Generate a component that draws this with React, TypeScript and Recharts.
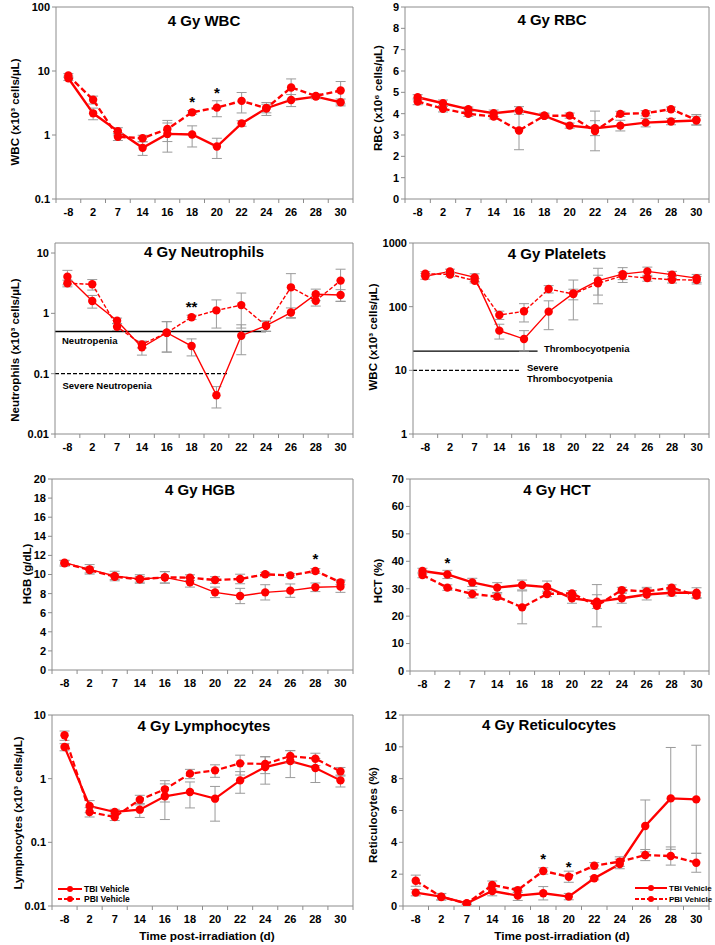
import React from 'react';
import { LineChart, Line, XAxis, YAxis, ErrorBar, ReferenceLine, ReferenceDot } from 'recharts';

const FONT = '"Liberation Sans", Arial, Helvetica, sans-serif';
const RED = '#FF0000';
const GRAY = '#8C8C8C';
const ERR = '#9A9A9A';

// ---------- data ----------
const categories = ['-8', '2', '7', '14', '16', '18', '20', '22', '24', '26', '28', '30'];

const wbcTbi = [7.7, 2.18, 1.15, 0.63, 1.04, 1.02, 0.66, 1.52, 2.62, 3.53, 3.98, 3.25];
const wbcTbiSd = [0.6, 0.45, 0.15, 0.15, 0.5, 0.37, 0.23, 0.15, 0.6, 0.75, 0.3, 0.4];
const wbcPbi = [8.5, 3.55, 0.94, 0.89, 1.24, 2.26, 2.68, 3.41, 2.62, 5.52, 4.08, 4.95];
const wbcPbiSd = [0.6, 0.5, 0.12, 0.1, 0.45, 0.15, 0.75, 1.2, 0.4, 2.0, 0.3, 1.9];

const rbcTbi = [4.77, 4.49, 4.21, 4.02, 4.15, 3.9, 3.44, 3.32, 3.44, 3.58, 3.63, 3.68];
const rbcTbiSd = [0.12, 0.15, 0.1, 0.15, 0.18, 0.12, 0.12, 0.35, 0.25, 0.2, 0.15, 0.2];
const rbcPbi = [4.57, 4.23, 3.99, 3.87, 3.21, 3.9, 3.91, 3.19, 3.99, 4.02, 4.21, 3.71];
const rbcPbiSd = [0.15, 0.15, 0.12, 0.12, 0.9, 0.12, 0.12, 0.93, 0.12, 0.12, 0.1, 0.25];

const neuTbi = [4.06, 1.6, 0.755, 0.273, 0.478, 0.287, 0.044, 0.426, 0.624, 1.03, 2.07, 2.02];
const neuTbiSd = [1.1, 0.38, 0.08, 0.07, 0.25, 0.09, 0.017, 0.22, 0.12, 0.2, 0.45, 0.45];
const neuPbi = [3.15, 3.03, 0.6, 0.306, 0.478, 0.86, 1.12, 1.37, 0.624, 2.7, 1.62, 3.49];
const neuPbiSd = [0.4, 0.6, 0.08, 0.04, 0.25, 0.07, 0.55, 0.8, 0.12, 1.85, 0.3, 1.9];

const pltTbi = [300, 358, 288, 42, 31, 83.5, 162, 256, 325, 358, 318, 281];
const pltTbiSd = [30, 30, 40, 11, 11, 40, 100, 145, 85, 60, 40, 40];
const pltPbi = [330, 320, 256, 74, 84.5, 189, 158, 232, 306, 281, 265, 262];
const pltPbiSd = [25, 25, 20, 11, 27, 25, 30, 80, 40, 30, 30, 35];

const hgbTbi = [11.24, 10.54, 9.84, 9.53, 9.7, 9.18, 8.13, 7.75, 8.13, 8.31, 8.66, 8.73];
const hgbTbiSd = [0.25, 0.5, 0.5, 0.45, 0.6, 0.5, 0.55, 0.8, 0.8, 0.7, 0.45, 0.6];
const hgbPbi = [11.17, 10.47, 9.77, 9.5, 9.7, 9.67, 9.42, 9.53, 10.02, 9.91, 10.37, 9.18];
const hgbPbiSd = [0.3, 0.3, 0.3, 0.3, 0.6, 0.3, 0.35, 0.5, 0.2, 0.2, 0.25, 0.25];

const hctTbi = [36.45, 35.2, 32.3, 30.4, 31.35, 30.6, 26.5, 25.3, 26.5, 27.9, 28.55, 28.55];
const hctTbiSd = [1, 1.5, 1.5, 1.8, 1.8, 2.2, 1.8, 2.5, 1.8, 2, 1.2, 1.8];
const hctPbi = [35, 30.4, 28.1, 27.1, 23.2, 28.1, 28.3, 23.8, 29.5, 29.0, 30.4, 27.5];
const hctPbiSd = [1, 1, 1.5, 1, 6, 1, 1, 7.7, 1, 1.5, 1, 1];

const lymTbi = [3.14, 0.372, 0.3, 0.326, 0.528, 0.617, 0.485, 0.94, 1.52, 1.89, 1.47, 0.94];
const lymTbiSd = [0.4, 0.08, 0.03, 0.08, 0.3, 0.27, 0.27, 0.35, 0.7, 0.85, 0.6, 0.2];
const lymPbi = [4.8, 0.3, 0.25, 0.468, 0.68, 1.2, 1.35, 1.74, 1.7, 2.27, 2.06, 1.3];
const lymPbiSd = [0.8, 0.05, 0.03, 0.08, 0.25, 0.2, 0.3, 0.6, 0.5, 0.5, 0.45, 0.2];

const retTbi = [0.84, 0.59, 0.17, 0.94, 0.65, 0.8, 0.59, 1.74, 2.64, 5.03, 6.76, 6.7];
const retTbiSd = [0.2, 0.2, 0.05, 0.3, 0.3, 0.42, 0.2, 0.1, 0.3, 1.63, 3.2, 3.4];
const retPbi = [1.59, 0.57, 0.15, 1.32, 1.0, 2.2, 1.84, 2.53, 2.79, 3.2, 3.14, 2.72];
const retPbiSd = [0.35, 0.2, 0.05, 0.25, 0.15, 0.2, 0.35, 0.2, 0.3, 0.35, 0.57, 0.6];

const wbcStars = [{ x: 5, y: 3.66, t: '*' }, { x: 6, y: 5.07, t: '*' }];
const neuStars = [{ x: 5, y: 1.43, t: '**' }];
const hgbStars = [{ x: 10, y: 11.94, t: '*' }];
const hctStars = [{ x: 1, y: 40.8, t: '*' }];
const retStars = [{ x: 5, y: 3.16, t: '*' }, { x: 6, y: 2.68, t: '*' }];

const neuThresholds = [
  { from: -0.5, to: 8, y: 0.5, dash: undefined },
  { from: -0.5, to: 6.5, y: 0.1, dash: '4 2' },
];
const pltThresholds = [
  { from: -0.5, to: 4.55, y: 20, dash: undefined },
  { from: -0.5, to: 3.85, y: 10, dash: '4 2' },
];

const logTicks1 = [0.1, 1, 10, 100];
const logTicks2 = [0.01, 0.1, 1, 10];
const logTicks3 = [1, 10, 100, 1000];
const rbcTicks = [0, 1, 2, 3, 4, 5, 6, 7, 8, 9];
const hgbTicks = [0, 2, 4, 6, 8, 10, 12, 14, 16, 18, 20];
const hctTicks = [0, 10, 20, 30, 40, 50, 60, 70];
const retTicks = [0, 2, 4, 6, 8, 10, 12];

// ---------- layout ----------
const panels: any[] = [
  { frame: [0, 0, 357, 230], plot: [56, 353, 7, 199], log: true, domain: [0.1, 100], ticks: logTicks1,
    tbi: wbcTbi, tbiSd: wbcTbiSd, pbi: wbcPbi, pbiSd: wbcPbiSd, stars: wbcStars, tw: 2.4, pw: 2.4, dash: '6 3' },
  { frame: [357, 0, 358, 230], plot: [405, 709, 7, 199], log: false, domain: [0, 9], ticks: rbcTicks,
    tbi: rbcTbi, tbiSd: rbcTbiSd, pbi: rbcPbi, pbiSd: rbcPbiSd, stars: [], tw: 2.4, pw: 2.4, dash: '6 3' },
  { frame: [0, 230, 357, 230], plot: [55, 353, 243, 434], log: true, domain: [0.01, 14.66], ticks: logTicks2,
    tbi: neuTbi, tbiSd: neuTbiSd, pbi: neuPbi, pbiSd: neuPbiSd, stars: neuStars, thresholds: neuThresholds, tw: 1.4, pw: 1.4, dash: '4 2' },
  { frame: [357, 230, 358, 230], plot: [413, 709, 243, 434], log: true, domain: [1, 1000], ticks: logTicks3,
    tbi: pltTbi, tbiSd: pltTbiSd, pbi: pltPbi, pbiSd: pltPbiSd, stars: [], thresholds: pltThresholds, tw: 1.4, pw: 1.4, dash: '4 2' },
  { frame: [0, 460, 357, 230], plot: [52, 353, 479, 670], log: false, domain: [0, 20], ticks: hgbTicks,
    tbi: hgbTbi, tbiSd: hgbTbiSd, pbi: hgbPbi, pbiSd: hgbPbiSd, stars: hgbStars, tw: 1.4, pw: 2.4, dash: '6 3' },
  { frame: [357, 460, 358, 230], plot: [410, 709, 479, 671], log: false, domain: [0, 70], ticks: hctTicks,
    tbi: hctTbi, tbiSd: hctTbiSd, pbi: hctPbi, pbiSd: hctPbiSd, stars: hctStars, tw: 2.4, pw: 2.4, dash: '6 3' },
  { frame: [0, 690, 357, 255], plot: [52, 353, 715, 906], log: true, domain: [0.01, 10], ticks: logTicks2,
    tbi: lymTbi, tbiSd: lymTbiSd, pbi: lymPbi, pbiSd: lymPbiSd, stars: [], tw: 2.2, pw: 2.2, dash: '6 3' },
  { frame: [357, 690, 358, 255], plot: [403, 709, 715, 906], log: false, domain: [0, 12], ticks: retTicks,
    tbi: retTbi, tbiSd: retTbiSd, pbi: retPbi, pbiSd: retPbiSd, stars: retStars, tw: 2.4, pw: 2.4, dash: '6 3' },
];

const titles = [
  { t: '4 Gy WBC', x: 204, y: 26 },
  { t: '4 Gy RBC', x: 552, y: 24.5 },
  { t: '4 Gy Neutrophils', x: 204, y: 257 },
  { t: '4 Gy Platelets', x: 557, y: 258.5 },
  { t: '4 Gy HGB', x: 200, y: 494.5 },
  { t: '4 Gy HCT', x: 557, y: 494.5 },
  { t: '4 Gy Lymphocytes', x: 204, y: 731 },
  { t: '4 Gy Reticulocytes', x: 549, y: 730 },
];

const yLabels = [
  { t: 'WBC (x10³ cells/µL)', x: 15, y: 112 },
  { t: 'RBC (x10⁶ cells/µL)', x: 378, y: 98 },
  { t: 'Neutrophils (x10³ cells/µL)', x: 15, y: 350 },
  { t: 'WBC (x10³ cells/µL)', x: 373, y: 337 },
  { t: 'HGB (g/dL)', x: 27, y: 574 },
  { t: 'HCT (%)', x: 378, y: 581 },
  { t: 'Lymphocytes (x10³ cells/µL)', x: 18, y: 813 },
  { t: 'Reticulocytes (%)', x: 373, y: 815 },
];

const xTitles = [
  { t: 'Time post-irradiation (d)', x: 207, y: 940 },
  { t: 'Time post-irradiation (d)', x: 562, y: 940 },
];

const notes = [
  { t: 'Neutropenia', x: 62, y: 343.5 },
  { t: 'Severe Neutropenia', x: 62.5, y: 389 },
  { t: 'Thrombocyotpenia', x: 544, y: 352 },
  { t: 'Severe', x: 527, y: 370.5 },
  { t: 'Thrombocyotpenia', x: 527, y: 382 },
];

const legends = [
  { x1: 58, x2: 82, tx: 84, y1: 889, y2: 899, fs: 8.5 },
  { x1: 635, x2: 667, tx: 669, y1: 888, y2: 899, fs: 8 },
];
const seriesNames = ['TBI Vehicle', 'PBI Vehicle'];

const XTick = (props: any) => {
  const { x, y, payload, band } = props;
  const idx = Math.round(payload.value + 0.5);
  if (idx < 0 || idx > 11) return null;
  return (
    <text x={x + band / 2} y={y + 11} textAnchor="middle" fontSize={11} fontWeight={700} fontFamily={FONT} fill="#000">
      {categories[idx]}
    </text>
  );
};

const xTicks = Array.from({ length: 13 }, (_, i) => i - 0.5);

function Panel({ p }: { p: any }) {
  const data = categories.map((c, i) => ({
    x: i, label: c, tbi: p.tbi[i], pbi: p.pbi[i], tbiSd: p.tbiSd[i], pbiSd: p.pbiSd[i],
  }));
  const [cx, cy, w, h] = p.frame;
  const [pl, pr, pt, pb] = p.plot;
  const band = (pr - pl) / 12;
  return (
    <div style={{ position: 'absolute', left: cx, top: cy, width: w, height: h }}>
      <LineChart width={w} height={h} data={data} margin={{ top: pt - cy, right: cx + w - pr, bottom: 0, left: 0 }}>
        <XAxis
          dataKey="x" type="number" domain={[-0.5, 11.5]} ticks={xTicks} interval={0} allowDataOverflow
          height={cy + h - pb} axisLine={{ stroke: GRAY }} tickLine={{ stroke: GRAY }} tickSize={4}
          tick={(t: any) => <XTick {...t} band={band} />}
        />
        <YAxis
          type="number" scale={p.log ? 'log' : 'linear'} domain={p.domain} ticks={p.ticks} interval={0} allowDataOverflow
          width={pl - cx} axisLine={{ stroke: GRAY }} tickLine={{ stroke: GRAY }} tickSize={4}
          tick={{ fontSize: 11, fontWeight: 700, fill: '#000', fontFamily: FONT }}
        />
        <ReferenceLine y={p.domain[1]} stroke={GRAY} />
        <ReferenceLine x={11.5} stroke={GRAY} />
        {(p.thresholds || []).map((r: any, i: number) => (
          <ReferenceLine key={'th' + i} segment={[{ x: r.from, y: r.y }, { x: r.to, y: r.y }]} stroke="#000" strokeWidth={1.3} strokeDasharray={r.dash} />
        ))}
        <Line type="linear" dataKey="tbi" stroke={RED} strokeWidth={p.tw} isAnimationActive={false} activeDot={false}
          dot={{ r: 4.2, fill: RED, stroke: RED, strokeWidth: 0, strokeDasharray: '0' }}>
          <ErrorBar dataKey="tbiSd" width={5} stroke={ERR} strokeWidth={1} direction="y" isAnimationActive={false} />
        </Line>
        <Line type="linear" dataKey="pbi" stroke={RED} strokeWidth={p.pw} strokeDasharray={p.dash} isAnimationActive={false} activeDot={false}
          dot={{ r: 4.2, fill: RED, stroke: RED, strokeWidth: 0, strokeDasharray: '0' }}>
          <ErrorBar dataKey="pbiSd" width={5} stroke={ERR} strokeWidth={1} direction="y" isAnimationActive={false} />
        </Line>
        {p.stars.map((s: any, i: number) => (
          <ReferenceDot key={'s' + i} x={s.x} y={s.y} r={0} ifOverflow="visible"
            shape={(sp: any) => (
              <text x={sp.cx} y={sp.cy + 8.5} textAnchor="middle" fontSize={15} fontWeight={700} fontFamily={FONT} fill="#000">{s.t}</text>
            )}
          />
        ))}
      </LineChart>
    </div>
  );
}

export default function App() {
  return (
    <div style={{ position: 'absolute', left: 0, top: 0, width: 715, height: 945, background: '#fff', overflow: 'hidden' }}>
      {panels.map((p, i) => <Panel key={i} p={p} />)}
      <svg width={715} height={945} style={{ position: 'absolute', left: 0, top: 0, pointerEvents: 'none' }}>
        {titles.map((t, i) => (
          <text key={'t' + i} x={t.x} y={t.y} textAnchor="middle" fontSize={15} fontWeight={700} fontFamily={FONT} fill="#000">{t.t}</text>
        ))}
        {yLabels.map((t, i) => (
          <text key={'y' + i} x={t.x + 4} y={t.y} transform={`rotate(-90 ${t.x + 4} ${t.y})`} textAnchor="middle" fontSize={11.5} fontWeight={700} fontFamily={FONT} fill="#000">{t.t}</text>
        ))}
        {xTitles.map((t, i) => (
          <text key={'x' + i} x={t.x} y={t.y} textAnchor="middle" fontSize={11.8} fontWeight={700} fontFamily={FONT} fill="#000">{t.t}</text>
        ))}
        {notes.map((t, i) => (
          <text key={'n' + i} x={t.x} y={t.y} fontSize={9.5} fontWeight={700} fontFamily={FONT} fill="#000">{t.t}</text>
        ))}
        {legends.map((l, i) => (
          <g key={'l' + i}>
            {[l.y1, l.y2].map((yy, j) => (
              <g key={j}>
                <line x1={l.x1} x2={l.x2} y1={yy} y2={yy} stroke={RED} strokeWidth={2} strokeDasharray={j === 1 ? '4 2' : undefined} />
                <circle cx={(l.x1 + l.x2) / 2} cy={yy} r={3} fill={RED} />
                <text x={l.tx} y={yy + 3} fontSize={l.fs} fontWeight={700} fontFamily={FONT} fill="#000">{seriesNames[j]}</text>
              </g>
            ))}
          </g>
        ))}
      </svg>
    </div>
  );
}
